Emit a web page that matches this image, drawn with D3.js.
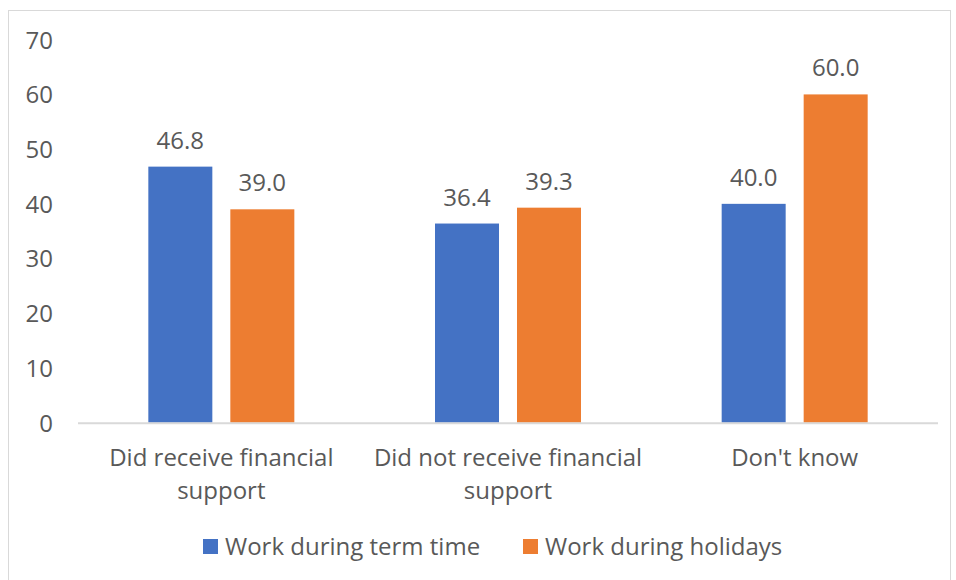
<!DOCTYPE html>
<html><head><meta charset="utf-8">
<script src="https://cdn.jsdelivr.net/npm/d3@7"></script>
<style>
body{margin:0;background:#fff;}
text{font-family:"Open Sans",sans-serif;fill:#595959;}
</style></head>
<body><svg id="c" width="956" height="580"></svg>
<script>
const categories = [["Did receive financial","support"],["Did not receive financial","support"],["Don't know"]];
const seriesNames = ["Work during term time","Work during holidays"];
const termTime = [46.8, 36.4, 40.0];
const holidays = [39.0, 39.3, 60.0];
const yTicks = [0,10,20,30,40,50,60,70];
const colors = ["#4472C4","#ED7D31"];

const svg = d3.select("#c");
const fs = 24;
svg.append("rect").attr("x",8.5).attr("y",10.5).attr("width",942).attr("height",600)
  .attr("fill","#fff").attr("stroke","#d9d9d9").attr("stroke-width",1);

const pLeft=78, pRight=938, pTop=39.7, pBottom=422.7;
const x0 = d3.scaleBand().domain(d3.range(categories.length)).range([pLeft,pRight]);
const y = d3.scaleLinear().domain([0,70]).range([pBottom,pTop]);
const barW = 64, gap = 18;
const series = [termTime, holidays];

// y axis labels
const yAxis = d3.axisLeft(y).tickValues(yTicks).tickSize(0).tickPadding(0).tickFormat(d3.format("d"));
const ga = svg.append("g").attr("transform",`translate(53,0)`).call(yAxis);
ga.select(".domain").remove();
ga.selectAll("text").attr("font-size",fs).attr("fill","#595959").attr("font-family","Open Sans").attr("dy","0.35em");

// bars
series.forEach((vals,si)=>{
  const offset = si===0 ? -(gap/2+barW) : gap/2;
  svg.append("g").selectAll("rect").data(vals).join("rect")
    .attr("x",(d,i)=>x0(i)+x0.bandwidth()/2+offset)
    .attr("y",d=>y(d)).attr("width",barW).attr("height",d=>y(0)-y(d))
    .attr("fill",colors[si]);
  svg.append("g").selectAll("text").data(vals).join("text")
    .attr("x",(d,i)=>x0(i)+x0.bandwidth()/2+offset+barW/2)
    .attr("y",d=>y(d)-18).attr("text-anchor","middle").attr("font-size",fs)
    .text(d=>d.toFixed(1));
});

// baseline
svg.append("line").attr("x1",pLeft).attr("x2",pRight).attr("y1",pBottom+0.5).attr("y2",pBottom+0.5)
  .attr("stroke","#d9d9d9").attr("stroke-width",2);

// category labels
categories.forEach((lines,i)=>{
  const t = svg.append("text").attr("text-anchor","middle").attr("font-size",fs)
    .attr("x",x0(i)+x0.bandwidth()/2).attr("y",466);
  lines.forEach((l,j)=>t.append("tspan").attr("x",x0(i)+x0.bandwidth()/2).attr("dy",j===0?0:32.5).text(l));
});

// legend
const legX = [203, 523];
seriesNames.forEach((n,i)=>{
  svg.append("rect").attr("x",legX[i]).attr("y",539).attr("width",15).attr("height",15).attr("fill",colors[i]);
  svg.append("text").attr("x",legX[i]+22).attr("y",555).attr("font-size",fs).text(n);
});
</script></body></html>
